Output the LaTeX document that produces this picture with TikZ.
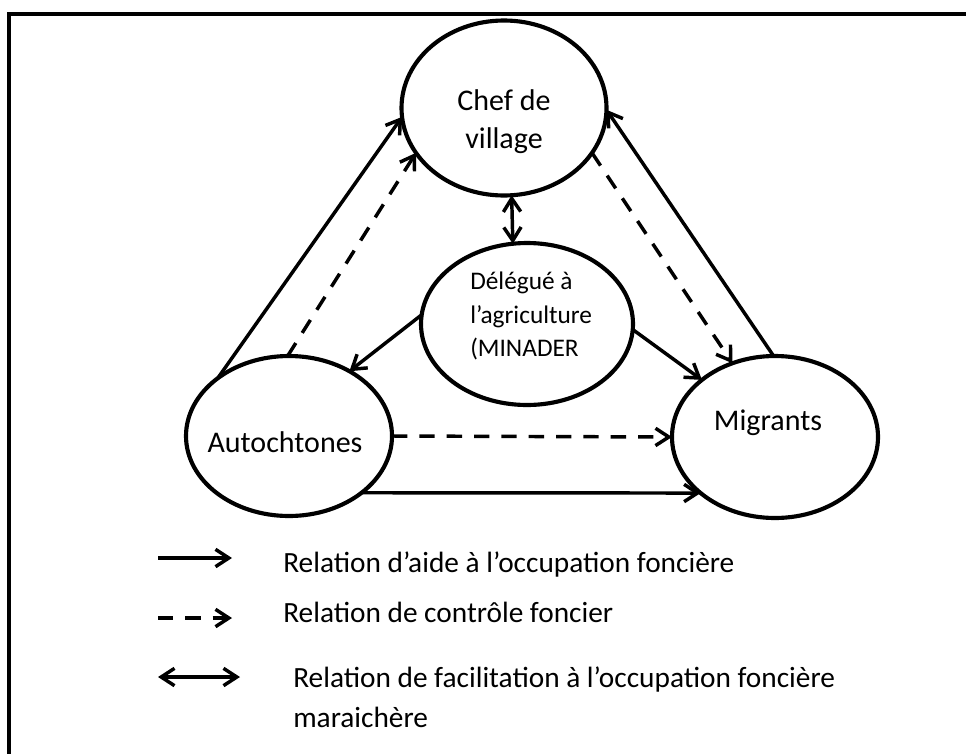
\documentclass[tikz,border=0pt]{standalone}
\usepackage{fontspec}
\setmainfont{Carlito}
\usetikzlibrary{shapes.geometric,arrows.meta}
\begin{document}
\begin{tikzpicture}[x=0.75pt,y=-0.75pt,
  oval/.style={draw,ellipse,line width=3.1pt,inner sep=0pt,outer sep=0pt},
  bigtext/.style={inner sep=0pt,font=\fontsize{22.5pt}{28.5pt}\selectfont},
  deltext/.style={inner sep=0pt,font=\fontsize{19pt}{25pt}\selectfont,align=left},
  legtext/.style={inner sep=0pt,font=\fontsize{22pt}{30pt}\selectfont,align=left},
  conn/.style={line width=2.6pt,-{Straight Barb[length=10pt,width=13pt]}},
  both/.style={line width=2.6pt,{Straight Barb[length=10pt,width=13pt]}-{Straight Barb[length=10pt,width=13pt]}},
  dashconn/.style={conn,dash pattern=on 11.5pt off 9pt}]
\useasboundingbox (0,0) rectangle (966,753);
\clip (0,0) rectangle (966,753);
% frame
\draw[line width=2.4pt] (9,1000) -- (9,14) -- (1100,14);
% ellipses
\node[oval,minimum width=205*0.75pt,minimum height=175*0.75pt] (chef) at (504,108) {};
\node[oval,minimum width=212*0.75pt,minimum height=162*0.75pt] (del) at (527,324) {};
\node[oval,minimum width=206*0.75pt,minimum height=160*0.75pt] (aut) at (289,436) {};
\node[oval,minimum width=206*0.75pt,minimum height=162*0.75pt] (mig) at (775,437) {};
% texts
\node[bigtext,align=center] (chefT) at (504,122) {Chef de\\village};
\node[deltext,anchor=west] (delT) at (470,316) {Délégué à\\l’agriculture\\(MINADER};
\node[bigtext,anchor=base] (autT) at (285,452) {Autochtones};
\node[bigtext,anchor=base] (migT) at (768,430) {Migrants};
% connectors
\draw[conn] (aut.141) -- (chef.185);
\draw[dashconn] (aut.91) -- (chef.207);
\draw[both] (chef.275) -- (del.100);
\draw[conn] (del.175) -- (aut.47);
\draw[conn] (del.357) -- (mig.142);
\draw[dashconn] (chef.333) -- (mig.120);
\draw[conn] (mig.91) -- (chef.359);
\draw[dashconn] (aut.east) -- (mig.west);
\draw[conn] (aut.322) -- (mig.217);
% legend
\coordinate (l1a) at (158,558); \coordinate (l1b) at (232,558);
\coordinate (l2a) at (158,618); \coordinate (l2b) at (232,618);
\coordinate (l3a) at (158,677); \coordinate (l3b) at (240,677);
\draw[conn] (l1a) -- (l1b);
\draw[dashconn] (l2a) -- (l2b);
\draw[both] (l3a) -- (l3b);
\node[legtext,anchor=base west] (t1) at (283,572) {Relation d’aide à l’occupation foncière};
\node[legtext,anchor=base west] (t2) at (283,622) {Relation de contrôle foncier};
\node[legtext,anchor=base west] (t3) at (293,727) {Relation de facilitation à l’occupation foncière\\maraichère};
\end{tikzpicture}
\end{document}
